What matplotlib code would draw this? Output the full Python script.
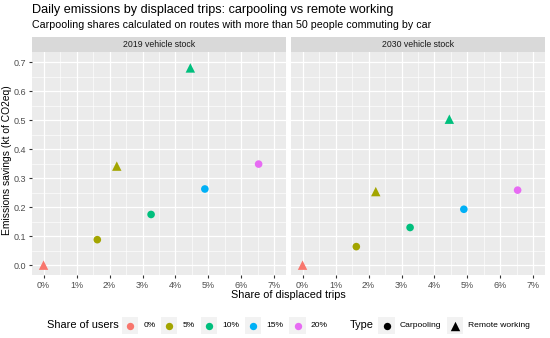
import numpy as np
import matplotlib
matplotlib.use("Agg")
import matplotlib.pyplot as plt
from matplotlib.patches import Rectangle
from matplotlib.ticker import MultipleLocator

plt.rcParams['font.family'] = ['Liberation Sans', 'DejaVu Sans']

# data: x = share of displaced trips (%), y = emissions savings (kt CO2eq)
panels = ['2019 vehicle stock', '2030 vehicle stock']
user_shares = ['0%', '5%', '10%', '15%', '20%']
share_colors = ['#F8766D', '#A3A500', '#00BF7D', '#00B0F6', '#E76BF3']

carpool_share = ['5%', '10%', '15%', '20%']
carpool_x = [1.63, 3.26, 4.89, 6.52]
carpool_y_2019 = [0.088, 0.175, 0.263, 0.349]
carpool_y_2030 = [0.064, 0.130, 0.193, 0.259]

remote_share = ['0%', '5%', '10%']
remote_x = [0.0, 2.22, 4.45]
remote_y_2019 = [0.0, 0.342, 0.681]
remote_y_2030 = [0.0, 0.254, 0.504]

W, H = 550, 338
fig = plt.figure(figsize=(W / 100, H / 100), dpi=100)


def fx(px):
    return px / W


def fy(py):
    return 1 - py / H


panel_top, panel_bot = 52.3, 275
strip_top = 36.5
lefts = [32, 291]
pw = 254
cmap = dict(zip(user_shares, share_colors))

ys = [(carpool_y_2019, remote_y_2019), (carpool_y_2030, remote_y_2030)]
for i, name in enumerate(panels):
    ax = fig.add_axes([fx(lefts[i]), fy(panel_bot), pw / W, (panel_bot - panel_top) / H])
    ax.set_facecolor('#EBEBEB')
    ax.set_xlim(-0.35, 7.35)
    ax.set_ylim(-0.034, 0.735)
    ax.xaxis.set_major_locator(MultipleLocator(1))
    ax.xaxis.set_minor_locator(MultipleLocator(0.5))
    ax.yaxis.set_major_locator(MultipleLocator(0.1))
    ax.yaxis.set_minor_locator(MultipleLocator(0.05))
    ax.grid(which='major', color='white', lw=0.9)
    ax.grid(which='minor', color='white', lw=0.45)
    ax.set_axisbelow(True)
    for s in ax.spines.values():
        s.set_visible(False)
    ax.tick_params(which='both', length=2.5, color='#333333', labelsize=6.5, labelcolor='#4D4D4D', pad=2)
    ax.tick_params(which='minor', length=0)
    ax.set_xticks(range(8))
    ax.set_xticklabels(['%d%%' % v for v in range(8)])
    if i == 0:
        ax.set_yticklabels(['%.1f' % v for v in ax.get_yticks()])
    else:
        ax.tick_params(axis='y', labelleft=False, length=0)
    cy, ry = ys[i]
    ax.scatter(carpool_x, cy, c=[cmap[s] for s in carpool_share], marker='o', s=30, zorder=3, linewidths=0)
    ax.scatter(remote_x, ry, c=[cmap[s] for s in remote_share], marker='^', s=46, zorder=3, linewidths=0)
    # facet strip
    fig.patches.append(Rectangle((fx(lefts[i]), fy(panel_top)), pw / W, (panel_top - strip_top) / H,
                                 transform=fig.transFigure, facecolor='#D9D9D9', edgecolor='none'))
    fig.text(fx(lefts[i] + pw / 2), fy((panel_top + strip_top) / 2), name, ha='center', va='center',
             fontsize=6.3, color='#1A1A1A')

fig.text(fx(7), fy(160.5), 'Emissions savings (kt of CO2eq)', rotation=90, ha='center', va='center', fontsize=7.4)
fig.text(fx(288.5), fy(295), 'Share of displaced trips', ha='center', va='center', fontsize=7.8)
fig.text(fx(31.5), fy(10), 'Daily emissions by displaced trips: carpooling vs remote working', fontsize=9.1, va='center')
fig.text(fx(31.5), fy(24.5), 'Carpooling shares calculated on routes with more than 50 people commuting by car',
         fontsize=7.7, va='center')

# legend drawn in pixel coordinates
lg = fig.add_axes([0, 0, 1, 1])
lg.set_xlim(0, W)
lg.set_ylim(H, 0)
lg.axis('off')
ly = 325.5
lg.text(47, ly, 'Share of users', fontsize=7.9, va='center')
key_x = [130, 169, 209, 253, 297.5]
for kx, lab, col in zip(key_x, user_shares, share_colors):
    lg.add_patch(Rectangle((kx - 8.3, ly - 8.3), 16.6, 16.6, facecolor='#F2F2F2', edgecolor='none'))
    lg.scatter([kx], [ly], color=col, s=28, marker='o', linewidths=0)
    lg.text(kx + 13.5, ly, lab, fontsize=6.1, va='center')
lg.text(350, ly, 'Type', fontsize=7.9, va='center')
for kx, lab, mk, sz in [(386.5, 'Carpooling', 'o', 28), (455, 'Remote working', '^', 46)]:
    lg.add_patch(Rectangle((kx - 8.3, ly - 8.3), 16.6, 16.6, facecolor='#F2F2F2', edgecolor='none'))
    lg.scatter([kx], [ly], color='black', s=sz, marker=mk, linewidths=0)
    lg.text(kx + 13.5, ly, lab, fontsize=6.1, va='center')

fig.savefig('out.png', dpi=100)
